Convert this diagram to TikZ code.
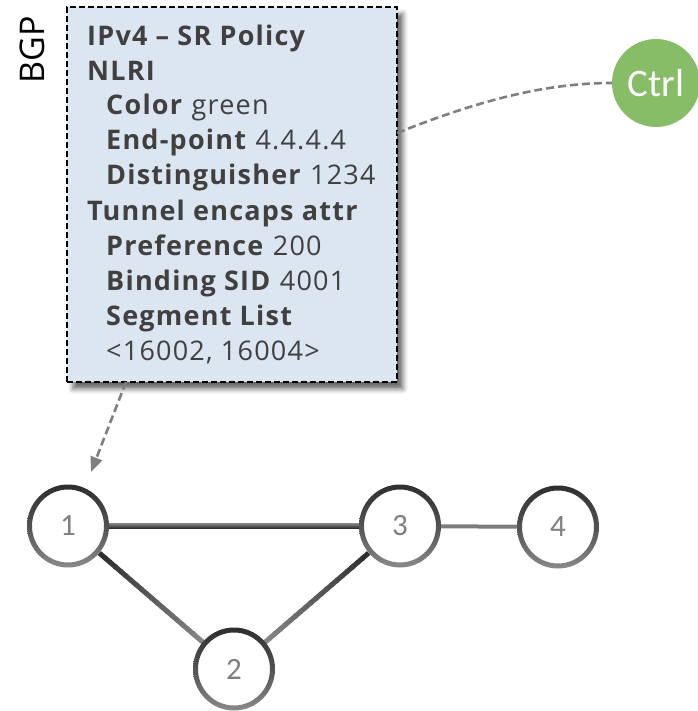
\documentclass[tikz,border=0pt]{standalone}
\usepackage{fontspec}
\setmainfont{Open Sans}
\newfontfamily\boxfont[LetterSpace=4.5]{Open Sans}
\newfontfamily\calfont{Carlito}
\usetikzlibrary{arrows.meta,calc,shadows.blur,shapes.geometric}
\definecolor{boxblue}{HTML}{DCE6F1}
\definecolor{txtgray}{HTML}{404040}
\definecolor{ctrlgreen}{HTML}{87BD66}
\definecolor{conngray}{HTML}{7F7F7F}
\definecolor{ringdark}{HTML}{2E2E2E}
\definecolor{ringlight}{HTML}{8A8A8A}
\tikzset{
  ln/.style={anchor=base west, inner sep=0pt, text=txtgray, font=\boxfont\fontsize{27}{30}\selectfont},
  policybox/.style={draw=black, line width=1.8pt, dash pattern=on 6pt off 3pt, fill=boxblue,
    anchor=north west, inner sep=0pt,
    blur shadow={shadow xshift=6pt, shadow yshift=-7pt, shadow blur radius=5pt, shadow opacity=60}},
  rnode/.style={ellipse, minimum width=82pt, minimum height=83pt, inner sep=0pt, fill=white,
    text=conngray, font=\calfont\fontsize{31}{31}\selectfont},
  conn/.style={conngray, line width=2.6pt, dash pattern=on 8pt off 4pt},
}
\newcommand{\ringat}[1]{%
  \shade[top color=ringdark, bottom color=ringlight, middle color=ringdark!60!ringlight, even odd rule]
    (#1.center) ellipse [x radius=41pt, y radius=41.5pt]
    (#1.center) ellipse [x radius=36pt, y radius=36.5pt];}
\newcommand{\gradedge}[5]{%
  \path (#1) -- (#2) coordinate[pos=0] (ga) coordinate[pos=1] (gb);
  \foreach \i in {0,...,19}{%
    \pgfmathsetmacro\pa{\i/20}%
    \pgfmathsetmacro\pb{(\i+1.3)/20}%
    \pgfmathtruncatemacro\mx{100-\i*5}%
    \draw[line width=#5, color=#3!\mx!#4] ($(ga)!\pa!(gb)$) -- ($(ga)!\pb!(gb)$);}}
\begin{document}
\begin{tikzpicture}[x=1pt,y=-1pt]
\useasboundingbox (0,0) rectangle (697,711);

% policy box
\node[policybox, minimum width=330pt, minimum height=375pt] (box) at (66,6) {};
\node[ln] (l1) at (87,46) {\bfseries IPv4 \textendash\ SR Policy};
\node[ln] (l2) at (87,81) {\bfseries NLRI};
\node[ln] (l3) at (106,115) {\textbf{Color} green};
\node[ln] (l4) at (106,150) {\textbf{End-point} 4.4.4.4};
\node[ln] (l5) at (106,185) {\textbf{Distinguisher} 1234};
\node[ln] (l6) at (87,220) {\bfseries Tunnel encaps attr};
\node[ln] (l7) at (106,255) {\textbf{Preference} 200};
\node[ln] (l8) at (106,290) {\textbf{Binding SID} 4001};
\node[ln] (l9) at (106,325) {\bfseries Segment List};
\node[ln] (l10) at (106,360) {<16002, 16004>};

% BGP label
\node[rotate=90, inner sep=0pt, font=\fontsize{34}{34}\selectfont] (bgp) at (32,50) {BGP};

% controller
\node[circle, fill=ctrlgreen, minimum size=88pt, inner sep=0pt, text=white,
      font=\calfont\fontsize{39}{39}\selectfont] (ctrl) at (656,83) {Ctrl};

% connectors
\coordinate (cs) at (397,133);
\draw[conn] (cs) .. controls (470,104) and (540,83) .. (ctrl.west);
\coordinate (as) at (126,382);
\coordinate (at) at (91,472);
\draw[conn, -{Triangle[length=15pt,width=12pt]}] (as) -- (at);

% network nodes
\node[rnode] (n1) at (68,526) {1};
\node[rnode] (n3) at (400,526) {3};
\node[rnode] (n4) at (558,527) {4};
\node[rnode] (n2) at (234,669) {2};

% links
\shade[top color=ringlight, bottom color=black!85] ($(n1.east)+(-3,-3)$) rectangle ($(n3.west)+(3,2.5)$);
\gradedge{n1}{n2}{ringdark}{ringlight}{5pt}
\gradedge{n3}{n2}{ringdark}{ringlight}{5pt}
\draw[line width=4pt, color=ringlight!90!black] (n3) -- (n4);

\ringat{n1}
\ringat{n2}
\ringat{n3}
\ringat{n4}
\end{tikzpicture}
\end{document}
